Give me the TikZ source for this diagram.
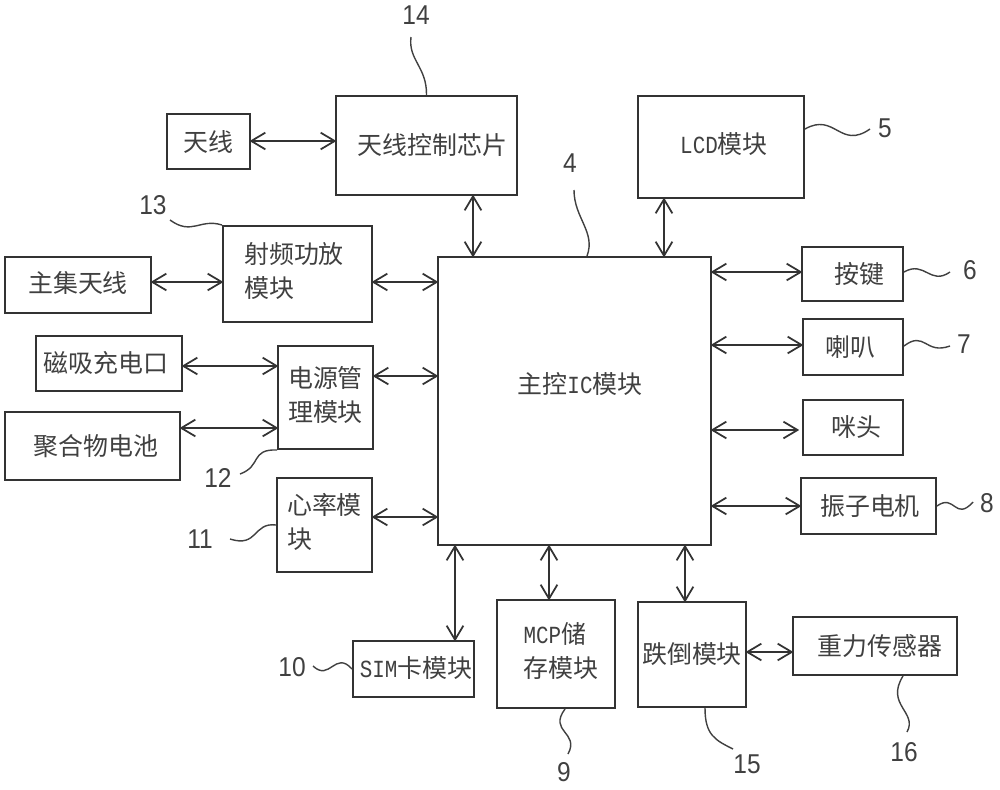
\documentclass[tikz,border=0pt]{standalone}
\usepackage{fontspec}
\usetikzlibrary{arrows.meta}
\newfontfamily\cjk{Noto Sans CJK SC}
\newfontfamily\latn[FakeStretch=0.85]{Liberation Mono}
\newfontfamily\digit[FakeStretch=0.9]{Liberation Sans}
\newlength{\px}
\setlength{\px}{0.02cm}
\newcommand{\lat}[1]{{\latn\fontsize{14}{19.4}\selectfont #1}}
\newcommand{\nudge}[3]{\raisebox{#2\px}{\hspace{#1\px}#3}}
\newcommand{\twolines}[2]{\begin{tabular}{@{}l@{}}#1\\#2\end{tabular}}

\begin{document}
\begin{tikzpicture}[x=0.02cm,y=-0.02cm]
          \tikzset{
            wh/.style 2 args={minimum width=#1\px,minimum height=#2\px},
            block/.style={draw=black!80,line width=1.1pt,inner sep=0pt,text=black!75,
              font=\cjk\fontsize{14.2}{19.4}\selectfont},
            num/.style={inner sep=0pt,text=black!75,font=\digit\fontsize{15.5}{18}\selectfont},
            link/.style={draw=black!80,line width=1pt,shorten <=-0.8pt,shorten >=-0.8pt,
              {Straight Barb[length=8pt,width=9.5pt]}-{Straight Barb[length=8pt,width=9.5pt]}},
            lead/.style={draw=black!75,line width=0.8pt}
          }
          \useasboundingbox (0,0) rectangle (1000,789);
          \node[block,wh={83}{55}] (ant) at (208.5,141.5) {天线};
          \node[block,wh={181}{99}] (ctl) at (426.5,145.5) {\nudge{12}{-3}{天线控制芯片}};
          \node[block,wh={166}{102}] (lcd) at (721,147) {\nudge{6}{8}{\lat{LCD}模块}};
          \node[block,wh={273}{288}] (ic) at (574.5,401) {\nudge{11}{36}{主控\lat{IC}模块}};
          \node[block,wh={149}{96}] (rf) at (297.5,274) {\nudge{-7}{-12}{\twolines{射频功放}{模块}}};
          \node[block,wh={146}{56}] (main) at (78,285) {\nudge{0}{6}{主集天线}};
          \node[block,wh={146}{55}] (chg) at (109,363.5) {\nudge{-6}{3}{磁吸充电口}};
          \node[block,wh={175}{68}] (bat) at (92.5,446) {\nudge{7}{-4}{聚合物电池}};
          \node[block,wh={95}{103}] (pwr) at (325.5,397.5) {\twolines{电源管}{理模块}};
          \node[block,wh={95}{94}] (hrt) at (324.5,525) {\nudge{0}{-4}{\twolines{心率模}{块}}};
          \node[block,wh={121}{56}] (sim) at (413.5,669) {\nudge{5}{4}{\lat{SIM}卡模块}};
          \node[block,wh={118}{108}] (mcp) at (556,654) {\nudge{10}{8}{\twolines{\lat{MCP}储}{存模块}}};
          \node[block,wh={108}{105}] (fall) at (692,654.5) {跌倒模块};
          \node[block,wh={164}{58}] (grav) at (875,646) {\nudge{10}{-6}{重力传感器}};
          \node[block,wh={101}{54}] (key) at (852.5,274) {\nudge{13}{-2}{按键}};
          \node[block,wh={100}{56}] (spk) at (853,347) {\nudge{-6}{-6}{喇叭}};
          \node[block,wh={100}{55}] (mic) at (853,427.5) {\nudge{6}{-7}{咪头}};
          \node[block,wh={135}{56}] (vib) at (868.5,506) {\nudge{3}{-4}{振子电机}};
          \foreach \nm/\x/\y/\txt in {n14/416/15/14,n13/153/205/13,n4/570/163/4,n5/885/128/5,
              n6/970/270/6,n7/964/344/7,n8/987/503/8,n16/904/752/16,n15/747/764/15,n9/564/772/9,
              n10/292/667/10,n11/200/539/11,n12/218/478/12}
            \node[num] (\nm) at (\x,\y) {\txt};
          \foreach \nm/\x/\y in {t14/411/37,t13/170/220,t4/574/190,t5/870/129,t6/950/272,t7/950/346,
              t8/973/502,t16/907/732,t15/733/749,t9/568/754,t10/313/666,t11/230/539,t12/240/474}
            \coordinate (\nm) at (\x,\y);
          \foreach \l/\r/\y in {ant/ctl/141,main/rf/282,rf/ic/282,chg/pwr/366,bat/pwr/428,pwr/ic/376,
              hrt/ic/517,ic/key/272,ic/spk/345,ic/vib/506,fall/grav/652}
            \draw[link] (\l.east |- 0,\y) -- (\r.west |- 0,\y);
          \draw[link,shorten >=1.6pt] (ic.east |- 0,430) -- (mic.west |- 0,430);
          \foreach \t/\b/\x in {ctl/ic/473,lcd/ic/664,ic/sim/455,ic/mcp/549,ic/fall/685}
            \draw[link] (\t.south -| \x,0) -- (\b.north -| \x,0);
          \draw[lead] (ctl.north) .. controls (427,67) and (408,60) .. (t14);
          \draw[lead] (rf.north west) .. controls (200,218) and (192,236) .. (t13);
          \draw[lead] ([xshift=12.5\px]ic.north) .. controls (596,232) and (574,218) .. (t4);
          \draw[lead] (lcd.east |- t5) .. controls (835,112) and (840,150) .. (t5);
          \draw[lead] (key.east |- t6) .. controls (925,260) and (930,286) .. (t6);
          \draw[lead] (spk.east |- t7) .. controls (925,330) and (925,355) .. (t7);
          \draw[lead] (vib.east) .. controls (955,493) and (955,522) .. (t8);
          \draw[lead] ([xshift=28\px]grav.south) .. controls (885,705) and (918,712) .. (t16);
          \draw[lead] ([xshift=13\px]fall.south) .. controls (705,735) and (715,740) .. (t15);
          \draw[lead] ([xshift=9\px]mcp.south) .. controls (548,732) and (580,732) .. (t9);
          \draw[lead] (sim.west) .. controls (335,650) and (330,682) .. (t10);
          \draw[lead] (hrt.west) .. controls (253,522) and (258,548) .. (t11);
          \draw[lead] (pwr.south west) .. controls (250,449) and (262,466) .. (t12);
        \end{tikzpicture}
\end{document}
